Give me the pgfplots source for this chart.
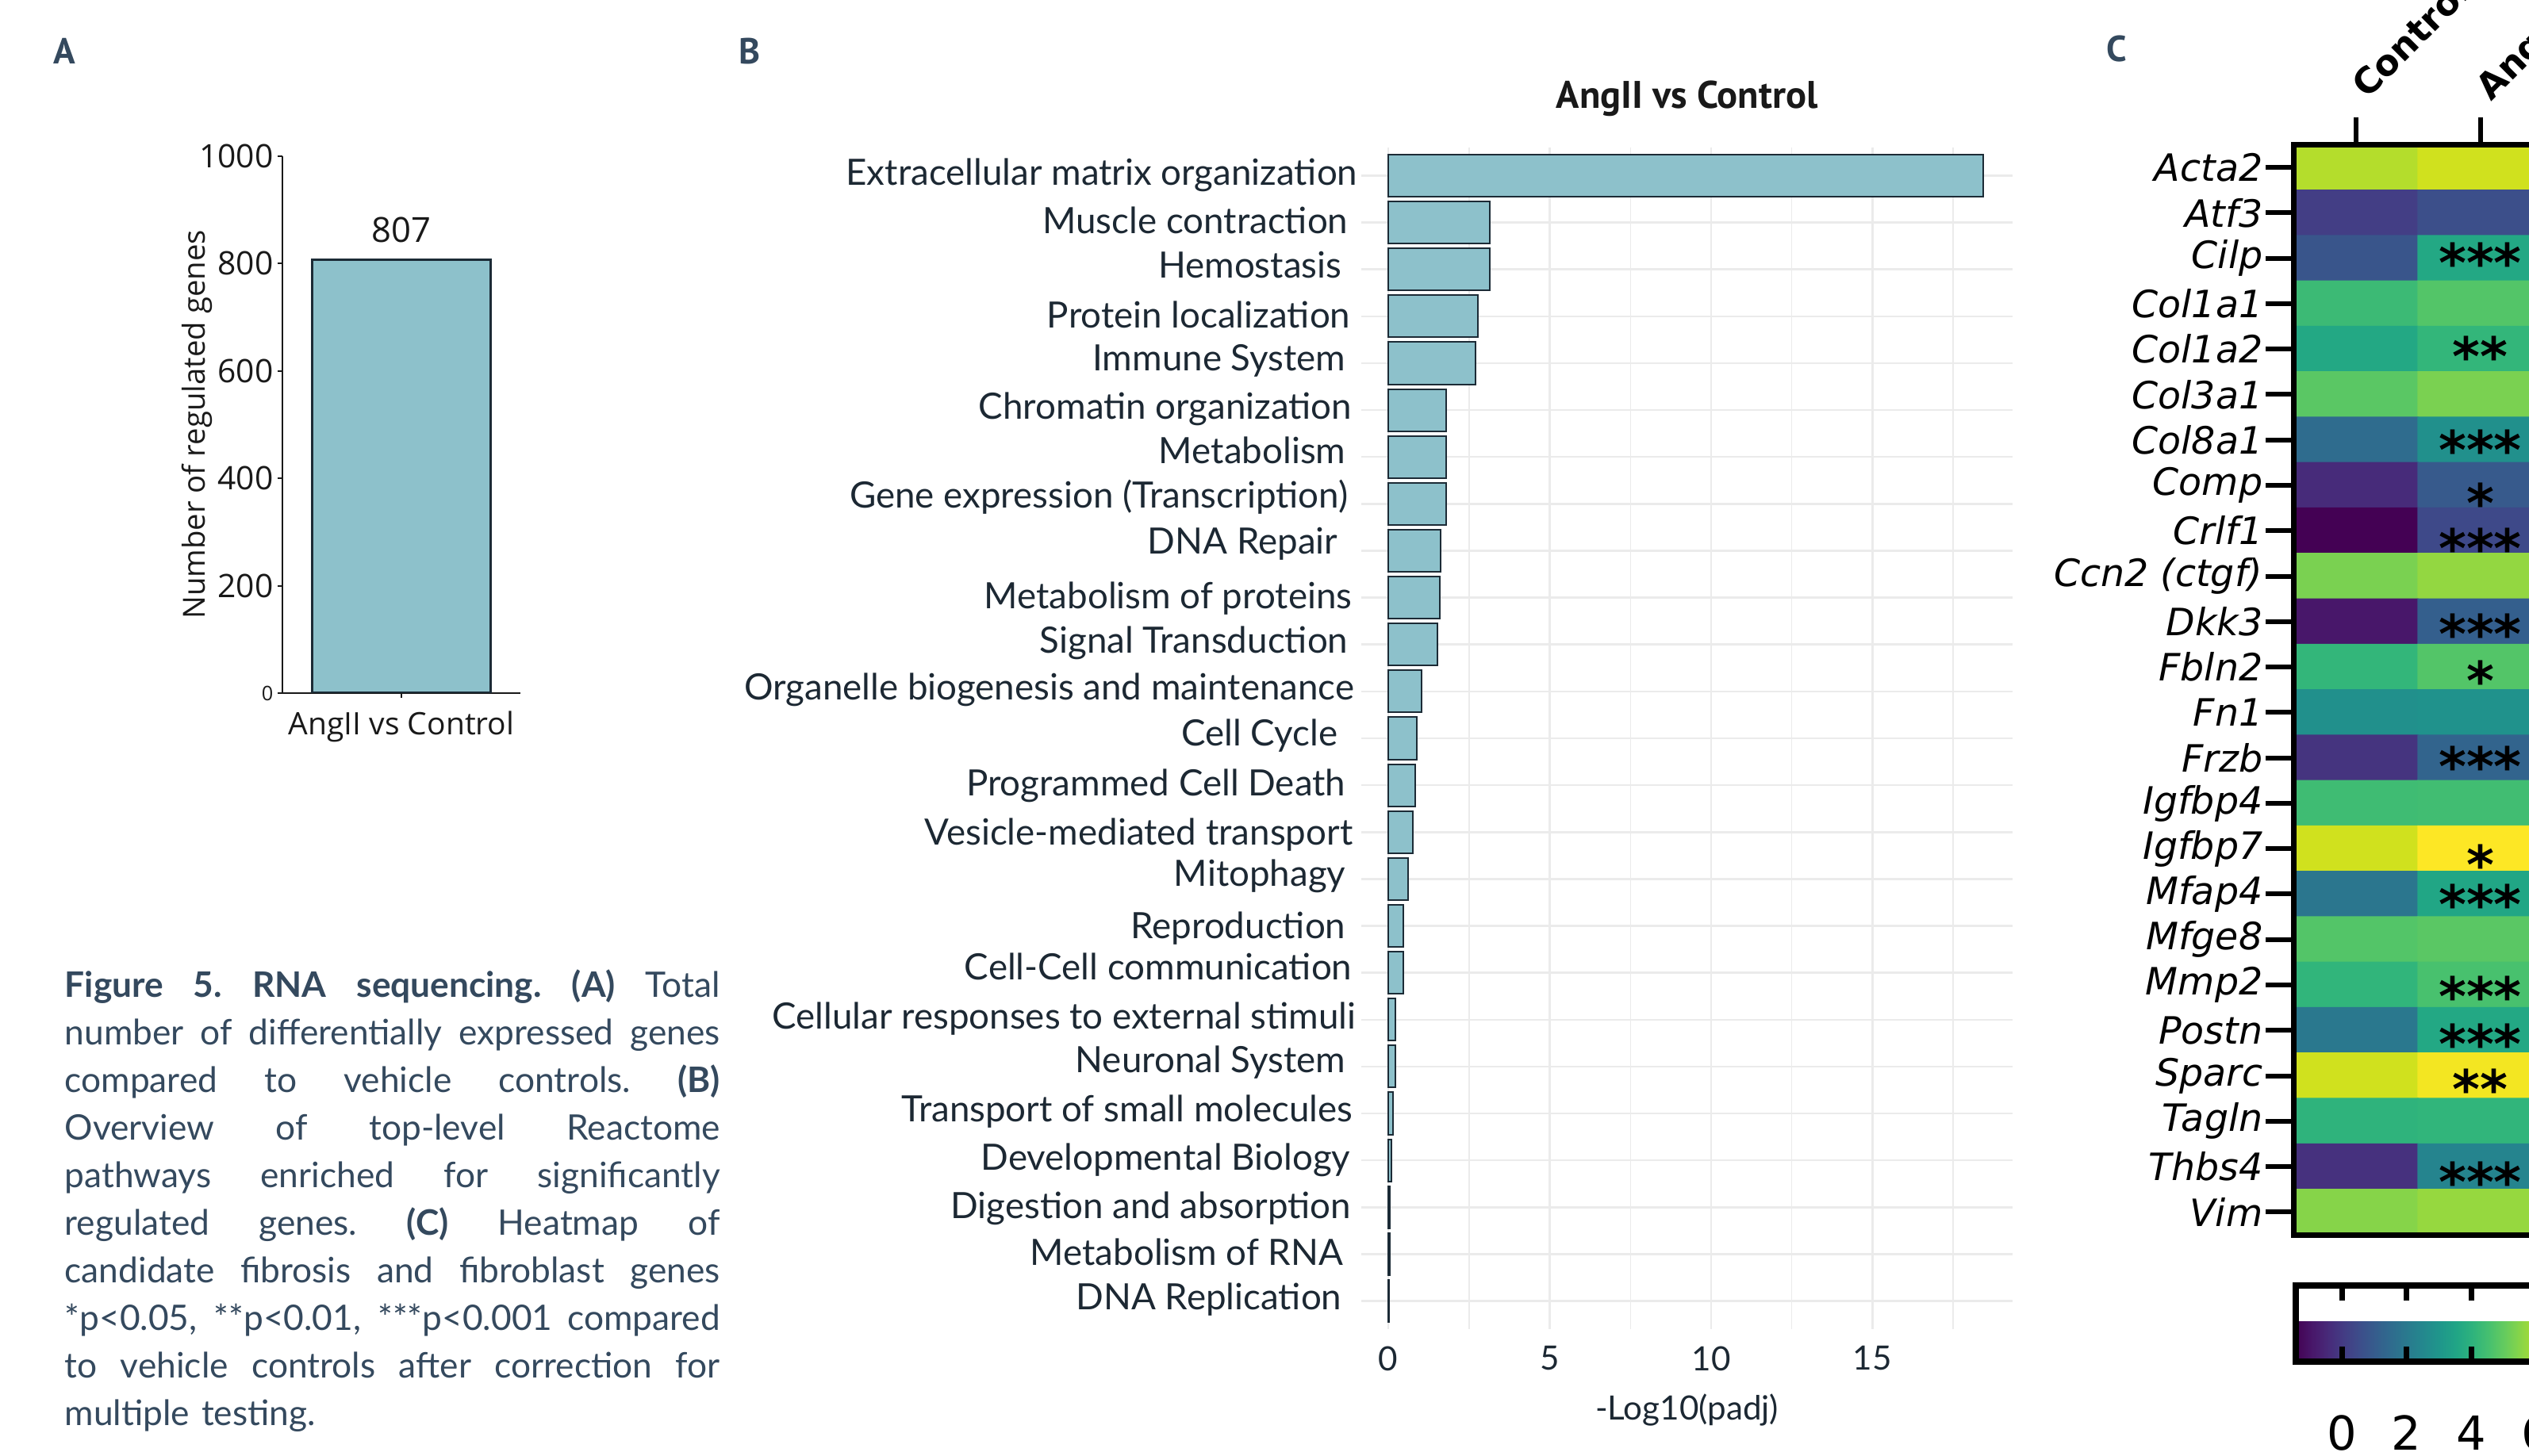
\documentclass[border=0pt]{standalone}
\usepackage{fontspec}
\usepackage{pgfplots}
\pgfplotsset{compat=1.18}
\usetikzlibrary{calc}
\setmainfont{Lato}
\newfontfamily\ptsans{PT Sans}
\newfontfamily\lato{Lato}
\newfontfamily\opensans{Open Sans}
\newfontfamily\dejavu{DejaVu Sans}
\definecolor{slate}{HTML}{34495E}
\definecolor{barfill}{HTML}{8DC1CB}
\definecolor{baredge}{HTML}{1C2B36}
\definecolor{labtxt}{HTML}{1C2833}
\definecolor{gridc}{HTML}{EBEBEB}
\newcommand\fs[1]{\fontsize{#1}{#1}\selectfont}
\newcommand\rs[2]{#1\hspace*{#2mm}}
\newcommand\jline[1]{\leavevmode\hbox to 82.6mm{\spaceskip=0.22em plus 1fil\xspaceskip=0.22em plus 1fil\relax #1}}
\pgfplotsset{/pgf/number format/assume math mode=true}

\begin{document}
\begin{tikzpicture}
\useasboundingbox (0,0) rectangle (318.8mm,183.6mm);
\clip (0,0) rectangle (318.8mm,183.6mm);

% panel letters
\node[font=\ptsans\bfseries\fs{13}, text=slate] at (8.1mm,177.2mm) {A};
\node[font=\ptsans\bfseries\fs{13}, text=slate] at (94.5mm,177.1mm) {B};
\node[font=\ptsans\bfseries\fs{13}, text=slate] at (266.8mm,177.4mm) {C};

% ---------------- Panel A ----------------
\begin{axis}[
  at={(35.6mm,96.2mm)}, anchor=south west, scale only axis,
  width=30mm, height=67.7mm,
  xmin=0, xmax=300, ymin=0, ymax=1000,
  axis x line*=bottom, axis y line*=left,
  axis line style={-, line width=0.2mm, black!90},
  ytick={0,200,400,600,800,1000},
  yticklabels={{\fs{7.2}0},200,400,600,800,1000},
  xtick={150}, xticklabels={AngII vs Control},
  tick align=outside, major tick length=0.6mm,
  tick style={line width=0.2mm, black!90},
  ticklabel style={font=\opensans\fs{11.6}, text=black!90},
  yticklabel style={inner sep=0.5mm},
  xticklabel style={font=\opensans\fs{11.1}, anchor=center, yshift=-3.6mm},
  ylabel={Number of regulated genes},
  ylabel style={font=\opensans\fs{10.9}, text=black!90, at={(axis description cs:-0.36,0.5)}, anchor=center},
]
\addplot[ybar, bar width=225, fill=barfill, draw=baredge, line width=0.3mm] coordinates {(150,807)};
\node[font=\opensans\fs{12.4}, text=black!90] at (axis cs:150,862) {807};
\end{axis}

% ---------------- Panel B ----------------
\begin{axis}[
  at={(171.6mm,16.0mm)}, anchor=south west, scale only axis,
  width=82.1mm, height=149.0mm,
  xmin=-0.84, xmax=19.34, ymin=0.4, ymax=25.6, y dir=reverse,
  axis line style={draw=none},
  major tick length=0pt, minor tick length=0pt,
  xtick={0,5,10,15}, minor xtick={2.5,7.5,12.5,17.5},
  ytick={1.211,2.228,3.177,4.245,5.160,6.194,7.143,8.093,9.076,10.236,11.177,12.177,13.169,
         14.228,15.278,16.152,17.262,18.143,19.194,20.131,21.177,22.211,23.234,24.236,25.185},
  yticklabels={\rs{Extracellular matrix organization}{0}, \rs{Muscle contraction}{1.2}, \rs{Hemostasis}{2.0},
    \rs{Protein localization}{0.9}, \rs{Immune System}{1.5}, \rs{Chromatin organization}{0.7}, \rs{Metabolism}{1.5},
    \rs{Gene expression (Transcription)}{1.2}, \rs{DNA Repair}{2.5}, \rs{Metabolism of proteins}{0.7},
    \rs{Signal Transduction}{1.2}, \rs{Organelle biogenesis and maintenance}{0.4}, \rs{Cell Cycle}{2.5},
    \rs{Programmed Cell Death}{1.5}, \rs{Vesicle-mediated transport}{0.6}, \rs{Mitophagy}{1.5}, \rs{Reproduction}{1.5},
    \rs{Cell-Cell communication}{0.7}, \rs{Cellular responses to external stimuli}{0.2},
    \rs{Neuronal System}{1.5}, \rs{Transport of small molecules}{0.6}, \rs{Developmental Biology}{0.9},
    \rs{Digestion and absorption}{0.8}, \rs{Metabolism of RNA}{1.8}, \rs{DNA Replication}{2.0}},
  extra y ticks={1,...,25},
  extra y tick labels={},
  extra y tick style={grid=major},
  xmajorgrids, xminorgrids,
  major grid style={line width=0.25mm, gridc},
  minor grid style={line width=0.15mm, gridc},
  ticklabel style={font=\lato\fs{12}, text=labtxt},
  yticklabel style={font=\lato\fs{13}, inner sep=0pt, anchor=base east, xshift=-0.4mm},
  xticklabel style={anchor=center, yshift=-3.7mm},
  xlabel={-Log10(padj)},
  xlabel style={font=\lato\fs{12}, text=labtxt, at={(axis description cs:0.5,0)}, anchor=center, yshift=-10.2mm},
  title={AngII vs Control},
  title style={font=\ptsans\bfseries\fs{13.8}, text=black!90, at={(axis description cs:0.5,1)}, anchor=base, yshift=2.8mm},
]
\addplot[xbar, bar width=0.9, fill=barfill, draw=baredge, line width=0.2mm] coordinates {
(18.42,1) (3.15,2) (3.15,3) (2.77,4) (2.71,5) (1.78,6) (1.78,7) (1.78,8)
(1.63,9) (1.60,10) (1.52,11) (1.03,12) (0.88,13) (0.83,14) (0.75,15)
(0.60,16) (0.47,17) (0.47,18) (0.21,19) (0.21,20) (0.15,21) (0.10,22)
(0.05,23) (0.04,24) (0.03,25)};
\end{axis}

% ---------------- Panel C ----------------
\begin{axis}[
  at={(289.1mm,27.9mm)}, anchor=south west, scale only axis,
  width=31.4mm, height=137.45mm,
  xmin=-0.5, xmax=1.5, ymin=0.5, ymax=24.5, y dir=reverse,
  axis on top,
  colormap/viridis, point meta min=-1.42, point meta max=7.0,
  axis line style={line width=0.7mm, black},
  tick align=outside, major tick length=3.5mm,
  tick style={line width=0.6mm, black},
  xtick={0,1}, xticklabels={{},{}},
  xtick pos=right, xticklabel pos=right,
  ytick={1,...,24}, ytick pos=left,
  yticklabels={Acta2, Atf3, Cilp, Col1a1, Col1a2, Col3a1, Col8a1, Comp, Crlf1,
    Ccn2 (ctgf), Dkk3, Fbln2, Fn1, Frzb, Igfbp4, Igfbp7, Mfap4, Mfge8, Mmp2,
    Postn, Sparc, Tagln, Thbs4, Vim},
  yticklabel style={font=\dejavu\itshape\fs{13.5}, inner sep=0.3mm},
  colorbar horizontal,
  colorbar style={
    at={(parent axis.south west)}, anchor=north west,
    xshift=0.3mm, yshift=-3.4mm,
    scale only axis, width=34.4mm, height=9.6mm,
    axis line style={line width=0.8mm, black},
    xtick={0,2,4,6}, xticklabels={0,2,4,6},
    xtick pos=both, xticklabel pos=left,
    tick align=inside, major tick length=1.9mm,
    tick style={line width=0.7mm, black},
    xticklabel style={font=\dejavu\fs{16.8}, rotate=0, anchor=center, inner sep=0pt, xshift=0mm, yshift=-9.0mm},
    ytick=\empty,
  },
]
\addplot[matrix plot*, mesh/cols=2, point meta=explicit] table[meta=c] {
x y c
0 1 6.07
1 1 6.41
0 2 0.10
1 2 0.60
0 3 0.77
1 3 3.63
0 4 4.31
1 4 4.73
0 5 3.63
1 5 4.14
0 6 4.85
1 6 5.32
0 7 1.53
1 7 2.79
0 8 -0.41
1 8 0.94
0 9 -1.42
1 9 0.43
0 10 5.32
1 10 5.65
0 11 -0.91
1 11 1.11
0 12 4.14
1 12 4.73
0 13 2.79
1 13 2.87
0 14 -0.16
1 14 1.27
0 15 4.39
1 15 4.42
0 16 6.41
1 16 7.00
0 17 1.86
1 17 3.55
0 18 4.73
1 18 4.85
0 19 4.10
1 19 4.56
0 20 1.95
1 20 3.63
0 21 6.41
1 21 6.87
0 22 4.05
1 22 4.10
0 23 -0.24
1 23 2.37
0 24 5.48
1 24 5.69
};
\tikzset{star/.style={font=\dejavu\bfseries\fs{19}, anchor=base, inner sep=0pt}}
\node[star, yshift=-3.0mm] at (axis cs:1,3) {***};
\node[star, yshift=-3.3mm] at (axis cs:1,5) {**};
\node[star, yshift=-3.7mm] at (axis cs:1,7) {***};
\node[star, yshift=-4.6mm] at (axis cs:1,8) {*};
\node[star, yshift=-4.6mm] at (axis cs:1,9) {***};
\node[star, yshift=-4.0mm] at (axis cs:1,11) {***};
\node[star, yshift=-4.1mm] at (axis cs:1,12) {*};
\node[star, yshift=-3.5mm] at (axis cs:1,14) {***};
\node[star, yshift=-4.4mm] at (axis cs:1,16) {*};
\node[star, yshift=-3.7mm] at (axis cs:1,17) {***};
\node[star, yshift=-3.8mm] at (axis cs:1,19) {***};
\node[star, yshift=-4.1mm] at (axis cs:1,20) {***};
\node[star, yshift=-4.1mm] at (axis cs:1,21) {**};
\node[star, yshift=-4.3mm] at (axis cs:1,23) {***};
\end{axis}

% column headers of the heatmap (rotated, cut by the page edge as in the reference)
\node[font=\dejavu\bfseries\fs{12.8}, rotate=45, anchor=base west, inner sep=0pt] at (298.4mm,171.0mm) {Control};
\node[font=\dejavu\bfseries\fs{12.8}, rotate=45, anchor=base west, inner sep=0pt] at (314.0mm,170.7mm) {AngII};

% ---------------- Caption ----------------
\node[anchor=north west, inner sep=0pt, text width=82.6mm, align=left,
  font=\lato\fontsize{12.6}{17.07}\selectfont, text=slate] at (8.1mm,61.4mm) {%
\jline{\textbf{Figure 5. RNA sequencing. (A)} Total}\\
\jline{number of differentially expressed genes}\\
\jline{compared to vehicle controls. \textbf{(B)}}\\
\jline{Overview of top-level Reactome}\\
\jline{pathways enriched for significantly}\\
\jline{regulated genes. \textbf{(C)} Heatmap of}\\
\jline{candidate fibrosis and fibroblast genes}\\
\jline{*p<0.05, **p<0.01, ***p<0.001 compared}\\
\jline{to vehicle controls after correction for}\\
multiple testing.};
\end{tikzpicture}
\end{document}
